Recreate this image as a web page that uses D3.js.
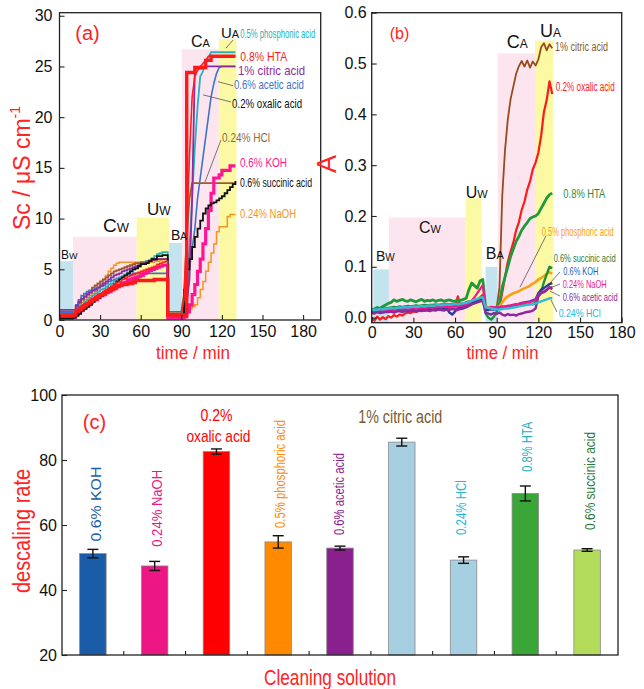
<!DOCTYPE html>
<html><head><meta charset="utf-8">
<script src="https://cdn.jsdelivr.net/npm/d3@7"></script>
<style>body{margin:0;background:#fff}svg{display:block}</style>
</head><body>
<svg id="chart" width="644" height="689"></svg>
<script>
// ---------------- DATA ----------------
const timeMin = [0,2,4,6,8,10,12,14,16,18,20,22,24,26,28,30,32,34,36,38,40,42,44,46,48,50,52,54,56,58,60,62,64,66,68,70,72,74,76,78,80,82,84,86,88,90,92,94,96,98,100,102,104,106,108,110,112,114,116,118,120,122,124,126,128,130];

// panel (a) conductivity Sc / uS cm-1
const scPhosphonic = [0.5,0.5,0.5,0.5,0.5, 0.6,0.9,1.2,1.5,1.8,2.0,2.2,2.4,2.6,2.8,3.0,3.1,3.3,3.5,3.6,3.8,4.0,4.1,4.3,4.5,4.7,4.9,5.0,5.2,5.3,5.5,5.6,5.8,5.9,6.1,6.3,6.5,6.6,6.7,6.7, 0.6,0.6,0.6,0.6,0.6,0.6, 1.0,3.0,7.0,12.0,17.0,21.0,24.0,24.5,25.5,25.9,26.4,26.4,26.4,26.4,26.4,26.4,26.4,26.4,26.4,26.4];
const scHTA = [0.4,0.4,0.4,0.4,0.4, 0.5,0.8,1.0,1.2,1.4,1.6,1.8,2.0,2.1,2.3,2.5,2.6,2.8,2.9,3.0,3.2,3.3,3.4,3.5,3.5,3.6,3.6,3.7,3.9,3.9,3.9,3.9,3.9,3.9,3.9,4.0,4.0,4.0,4.0,4.0, 0.5,0.5,0.5,0.5,0.5,0.5, 0.5,24.4,24.4,24.4,24.9,24.9,24.9,24.9,25.6,25.6,26.0,26.0,26.0,26.0,26.0,26.0,26.0,26.0,26.0,26.0];
const scCitric = [1.0,1.0,1.0,1.0,1.0, 1.0,1.4,1.8,2.1,2.3,2.5,2.7,2.9,3.0,3.2,3.4,3.6,3.8,4.0,4.2,4.4,4.5,4.6,4.8,4.9,5.0,5.1,5.2,5.3,5.4,5.5,5.6,5.7,5.8,5.9,6.0,6.0,6.0,6.0,6.0, 0.4,0.4,0.4,0.4,0.4,0.4, 0.6,1.5,4.0,12.0,24.8,24.8,24.8,24.8,25.0,25.0,25.0,25.0,25.0,25.0,25.0,25.0,25.0,25.0,25.0,25.0];
const scAcetic = [0.7,0.7,0.7,0.7,0.7, 0.8,1.5,2.0,2.4,2.6,2.8,2.9,3.0,3.1,3.2,3.3,3.4,3.6,3.8,3.9,4.0,4.1,4.2,4.3,4.4,4.5,4.5,4.6,4.6,4.6,4.6,4.6,4.6,4.6,4.6,4.6,4.6,4.6,4.6,4.6, 0.5,0.5,0.5,0.5,0.5,0.5, 1.0,3.0,5.0,7.0,9.0,12.0,14.0,16.0,18.0,20.0,22.0,23.3,24.3,24.9,25.0,25.0,25.0,25.0,25.0,25.0];
const scOxalic = [0.6,0.6,0.6,0.6,0.6, 0.6,1.0,1.2,1.4,1.6,1.7,1.9,2.1,2.3,2.5,2.6,2.8,3.0,3.2,3.3,3.5,3.7,3.8,4.0,4.1,4.3,4.4,4.5,4.6,4.7,4.8,4.9,5.0,5.1,5.2,5.3,5.5,5.6,5.7,5.8, 0.6,0.6,0.6,0.6,0.6,0.6, 2.0,9.0,16.0,22.0,24.0,24.6,25.0,25.3,25.6,26.0,26.0,26.0,26.0,26.0,26.0,26.0,26.0,26.0,26.0,26.0];
const scHCl = [0.8,0.8,0.8,0.8,0.8, 0.8,1.3,1.7,2.0,2.3,2.6,2.9,3.2,3.4,3.6,3.8,4.0,4.2,4.4,4.6,4.8,4.9,5.0,5.1,5.2,5.3,5.4,5.5,5.6,5.6,5.7,5.7,5.8,5.8,5.9,5.9,6.0,6.0,6.0,6.0, 0.8,0.8,0.8,0.8,0.8,0.8, 2.5,8.0,12.0,13.5,13.5,13.5,13.5,13.5,13.5,13.5,13.5,13.5,13.5,13.5,13.5,13.5,13.5,13.5,13.5,13.5];
const scKOH = [0.3,0.3,0.3,0.3,0.3, 0.3,0.6,0.9,1.1,1.3,1.5,1.7,1.9,2.0,2.2,2.4,2.5,2.7,2.8,3.0,3.1,3.3,3.4,3.6,3.7,3.9,4.0,4.1,4.2,4.3,4.4,4.6,4.7,4.9,5.0,5.1,5.2,5.3,5.4,5.4, 0.2,0.2,0.2,0.2,0.2,0.2, 0.3,0.8,1.5,2.5,3.5,4.8,6.0,7.5,9.0,10.8,12.5,14.0,14.0,14.3,14.75,14.75,14.75,15.2,15.2,15.2];
const scSuccinic = [0.15,0.15,0.15,0.15,0.15, 0.2,0.4,0.6,0.9,1.1,1.3,1.5,1.8,2.0,2.2,2.4,2.6,2.8,3.1,3.3,3.5,3.8,4.0,4.2,4.4,4.6,4.8,5.0,5.1,5.3,5.5,5.5,5.6,5.8,6.0,6.0,6.3,6.3,6.4,6.4, 0.5,0.5,0.5,0.5,0.5,0.5, 3.0,5.0,6.0,7.2,8.2,9.0,9.8,10.5,11.0,11.3,11.5,11.6,11.8,12.0,12.2,12.5,12.8,13.1,13.4,13.7];
const scNaOH = [0.4,0.4,0.4,0.4,0.4, 0.5,0.9,1.3,1.7,2.0,2.2,2.4,2.6,2.8,3.2,3.6,4.0,4.4,4.8,5.1,5.4,5.6,5.7,5.7,5.7,5.7,5.7,5.7,5.7,5.7,5.7,5.7,5.7,5.7,5.7,5.8,5.8,5.9,6.0,6.0, 0.3,0.3,0.3,0.3,0.3,0.3, 0.5,0.8,1.1,1.3,1.5,2.2,3.0,3.8,4.8,5.7,6.6,7.5,8.7,9.2,9.2,9.2,10.2,10.4,10.4,10.4];

// panel (b) absorbance A
const absCitric = [0.012,0.010,0.014,0.011,0.013,0.012, 0.013,0.012,0.014,0.013,0.015,0.014,0.015,0.016,0.015,0.016,0.017,0.016,0.017,0.018,0.017,0.018,0.018,0.019,0.018,0.019,0.020,0.019,0.020,0.021,0.020,0.021,0.022,0.022, 0.024,0.026,0.028,0.030,0.032,0.034,0.035, 0.018,0.020,0.019,0.021,0.020, 0.060,0.240,0.330,0.390,0.430,0.455,0.480,0.495,0.505,0.494,0.506,0.492,0.504,0.496,0.508,0.532,0.540,0.526,0.538,0.530];
const absOxalic = [0.000,-0.006,0.002,-0.004,0.001,-0.003, 0.003,0.000,0.005,0.002,0.006,0.004,0.008,0.010,0.009,0.012,0.011,0.013,0.014,0.013,0.015,0.016,0.015,0.017,0.018,0.017,0.019,0.020,0.019,0.021,0.020,0.042,0.021,0.023, 0.024,0.026,0.028,0.032,0.036,0.040,0.045, 0.015,0.017,0.016,0.018,0.017, 0.020,0.050,0.080,0.110,0.130,0.148,0.172,0.188,0.212,0.228,0.252,0.268,0.292,0.305,0.325,0.358,0.405,0.428,0.465,0.440];
const absHTA = [0.010,0.016,0.020,0.018,0.022,0.025, 0.028,0.030,0.035,0.032,0.034,0.036,0.033,0.032,0.035,0.033,0.031,0.034,0.036,0.032,0.034,0.033,0.035,0.032,0.034,0.035,0.032,0.034,0.035,0.033,0.032,0.035,0.034,0.036, 0.038,0.055,0.068,0.063,0.058,0.072,0.075, 0.020,0.018,0.017,0.019,0.020, 0.030,0.060,0.080,0.100,0.120,0.135,0.150,0.160,0.172,0.180,0.187,0.195,0.198,0.200,0.205,0.215,0.225,0.235,0.242,0.245];
const absPhosphoric = [0.008,0.010,0.012,0.011,0.013,0.014, 0.015,0.014,0.016,0.015,0.017,0.016,0.017,0.018,0.017,0.018,0.019,0.018,0.019,0.020,0.019,0.020,0.020,0.021,0.020,0.021,0.022,0.021,0.022,0.022,0.023,0.022,0.023,0.024, 0.025,0.027,0.028,0.030,0.031,0.032,0.033, 0.022,0.020,0.021,0.020,0.021, 0.022,0.030,0.037,0.042,0.045,0.048,0.050,0.052,0.055,0.058,0.060,0.063,0.067,0.070,0.075,0.078,0.082,0.086,0.089,0.087];
const absSuccinic = [0.015,0.018,0.016,0.019,0.017,0.018, 0.019,0.020,0.021,0.020,0.022,0.021,0.022,0.023,0.022,0.023,0.024,0.023,0.024,0.025,0.024,0.025,0.025,0.026,0.025,0.026,0.026,0.027,0.026,0.027,0.027,0.028,0.027,0.028, 0.030,0.032,0.033,0.034,0.035,0.036,0.037, 0.008,0.000,-0.004,0.002,0.012, 0.020,0.022,0.021,0.023,0.022,0.024,0.023,0.025,0.024,0.026,0.025,0.027,0.026,0.030,0.042,0.050,0.070,0.085,0.100,0.097];
const absKOH = [0.012,0.011,0.013,0.012,0.014,0.013, 0.014,0.013,0.015,0.014,0.015,0.016,0.015,0.016,0.015,0.016,0.017,0.016,0.017,0.016,0.017,0.018,0.017,0.018,0.017,0.018,0.017,0.018,0.010,0.006,0.012,0.018,0.020,0.021, 0.022,0.025,0.028,0.030,0.032,0.034,0.035, 0.016,0.015,0.017,0.016,0.017, 0.018,0.019,0.020,0.022,0.023,0.025,0.026,0.027,0.029,0.030,0.031,0.032,0.034,0.036,0.048,0.055,0.058,0.062,0.066,0.068];
const absNaOH = [0.010,0.012,0.011,0.013,0.012,0.014, 0.014,0.015,0.014,0.016,0.015,0.016,0.017,0.016,0.017,0.018,0.017,0.018,0.019,0.018,0.019,0.020,0.019,0.020,0.021,0.020,0.021,0.022,0.021,0.022,0.023,0.022,0.023,0.024, 0.025,0.028,0.033,0.040,0.048,0.056,0.064, 0.020,0.019,0.021,0.020,0.021, 0.020,0.021,0.022,0.023,0.024,0.025,0.026,0.027,0.028,0.029,0.030,0.031,0.032,0.034,0.045,0.050,0.052,0.055,0.058,0.060];
const absAcetic = [0.010,0.008,0.011,0.009,0.010,0.011, 0.011,0.012,0.010,0.012,0.013,0.011,0.013,0.012,0.014,0.013,0.012,0.014,0.013,0.015,0.014,0.013,0.015,0.014,0.016,0.015,0.014,0.016,0.015,0.017,0.016,0.015,0.017,0.018, 0.020,0.023,0.026,0.028,0.030,0.032,0.033, 0.010,0.008,0.006,0.009,0.007, 0.010,0.006,0.004,0.007,0.005,0.006,0.004,0.007,0.008,0.010,0.011,0.012,0.014,0.018,0.042,0.048,0.050,0.054,0.060,0.056];
const absHCl = [0.015,0.016,0.015,0.017,0.016,0.017, 0.018,0.019,0.018,0.019,0.020,0.020,0.021,0.020,0.021,0.022,0.021,0.022,0.023,0.022,0.023,0.024,0.023,0.024,0.025,0.024,0.025,0.026,0.025,0.026,0.027,0.026,0.027,0.028, 0.029,0.031,0.033,0.035,0.037,0.039,0.040, 0.020,0.019,0.018,0.017,0.016, 0.016,0.017,0.018,0.018,0.019,0.020,0.021,0.022,0.023,0.024,0.025,0.026,0.027,0.028,0.030,0.032,0.034,0.036,0.038,0.038];

// cleaning phases
const phaseLetter = ['B','C','U','B','C','U'];
const phaseSub = ['W','W','W','A','A','A'];
const phaseStartA = [0,10,57,81,90.5,117.7];
const phaseEndA = [10,57,81,90.5,117.7,130.8];
const phaseTopA = [5.8,8.2,10.1,7.6,26.7,27.7];
const phaseStartB = [1.2,12.4,67.7,82,90.7,117.6];
const phaseEndB = [12.4,67.7,79.2,90.7,117.6,130.8];
const phaseTopB = [0.095,0.197,0.235,0.1,0.52,0.545];

// panel (c) descaling rate
const solutions = ['0.6% KOH','0.24% NaOH','0.2% oxalic acid','0.5% phosphoric acid','0.6% acetic acid','1% citric acid','0.24% HCl','0.8% HTA','0.6% succinic acid'];
const descalingRate = [51.2,47.4,82.6,54.8,52.9,85.5,49.2,69.7,52.3];
const descalingErr = [1.3,1.4,0.8,1.9,0.6,1.2,1.0,2.3,0.4];

const ticksTime = [0,30,60,90,120,150,180];
const ticksSc = [0,5,10,15,20,25,30];
const ticksA = [0,0.1,0.2,0.3,0.4,0.5,0.6];
const ticksRate = [20,40,60,80,100];

// ---------------- DRAW ----------------
const FONT = "'Liberation Sans', Arial, Helvetica, sans-serif";
const NARROW = "'Liberation Sans Narrow','Arial Narrow','Liberation Sans', Arial, sans-serif";
const RED = '#ff2323';
const svg = d3.select('#chart');
const phaseFill = ['#c3e4ee','#fde5f0','#fbf9a4','#c3e4ee','#fde5f0','#fbf9a4'];

function txt(g, x, y, s, o) {
  const t = g.append('text').attr('x', x).attr('y', y).text(s)
    .attr('font-size', o.size).attr('fill', o.color || '#000')
    .attr('font-family', o.family || NARROW)
    .attr('text-anchor', o.anchor || 'start').attr('dy', '0.35em');
  if (o.len) t.attr('textLength', o.len).attr('lengthAdjust', 'spacingAndGlyphs');
  if (o.rotate) t.attr('transform', `rotate(-90 ${x} ${y})`);
  return t;
}
function phaseLabel(g, x, y, i, big, small) {
  const t = g.append('text').attr('x', x).attr('y', y).attr('dy', '0.35em')
    .attr('font-family', FONT).attr('fill', '#111');
  t.append('tspan').attr('font-size', big).text(phaseLetter[i]);
  t.append('tspan').attr('font-size', small).text(phaseSub[i]);
}
function styleAxis(g, size, family) {
  g.select('.domain').remove();
  g.attr('font-size', size).attr('font-family', family || FONT);
  g.selectAll('.tick line').attr('stroke', '#222').attr('stroke-width', 1.1);
  g.selectAll('.tick text').attr('fill', '#111');
}

// ===== Panel (a) =====
const xA = d3.scaleLinear().domain([0, 193]).range([59.5, 320.7]);
const yA = d3.scaleLinear().domain([0, 30.3]).range([320, 12.7]);
const gA = svg.append('g');
phaseStartA.forEach((s, i) => {
  gA.append('rect').attr('x', xA(s)).attr('width', xA(phaseEndA[i]) - xA(s))
    .attr('y', yA(phaseTopA[i])).attr('height', yA(0) - yA(phaseTopA[i])).attr('fill', phaseFill[i]);
});
// fast = conductivity rises smoothly during acid cleaning
const seriesA = [
  {v: scNaOH, c: '#f7941d', w: 1.5, fast: false},
  {v: scHCl, c: '#9c5a2c', w: 1.8, fast: true},
  {v: scAcetic, c: '#3d74c6', w: 1.6, fast: true},
  {v: scPhosphonic, c: '#27b4bf', w: 1.8, fast: true},
  {v: scCitric, c: '#8c2c9e', w: 1.8, fast: true},
  {v: scKOH, c: '#ff1493', w: 3.2, fast: false},
  {v: scSuccinic, c: '#111111', w: 1.8, fast: false},
  {v: scOxalic, c: '#ff1f1f', w: 1.6, fast: true},
  {v: scHTA, c: '#ff1a1a', w: 3.4, fast: false}
];
const splitIdx = timeMin.indexOf(90);
const stepLine = d3.line().x(d => xA(d[0])).y(d => yA(d[1])).curve(d3.curveStepAfter);
const linLine = d3.line().x(d => xA(d[0])).y(d => yA(d[1]));
seriesA.forEach(s => {
  const pts = s.v.map((v, i) => [timeMin[i], v]);
  const g = gA.append('g').attr('fill', 'none').attr('stroke', s.c).attr('stroke-width', s.w);
  if (s.fast) {
    g.append('path').attr('d', stepLine(pts.slice(0, splitIdx + 1)));
    g.append('path').attr('d', linLine(pts.slice(splitIdx)));
  } else {
    g.append('path').attr('d', stepLine(pts));
  }
});

const axA = gA.append('g').attr('transform', `translate(0,${yA(0)})`)
  .call(d3.axisBottom(xA).tickValues(ticksTime).tickSize(-5).tickPadding(6));
styleAxis(axA, 16);
const ayA = gA.append('g').attr('transform', `translate(${xA(0)},0)`)
  .call(d3.axisLeft(yA).tickValues(ticksSc).tickSize(-5).tickPadding(7));
styleAxis(ayA, 16);
gA.append('rect').attr('x', xA(0)).attr('y', yA(30.3)).attr('width', xA(193) - xA(0))
  .attr('height', yA(0) - yA(30.3)).attr('fill', 'none').attr('stroke', '#222').attr('stroke-width', 1.3);

// leader lines (a)
const leadA = [[128.2,27.6,123,26.8],[128.2,23.1,117.1,23.5],[126.7,21.5,106,22.2],[119.3,17.75,107.5,13.6]];
leadA.forEach(l => gA.append('line').attr('x1', xA(l[0])).attr('y1', yA(l[1])).attr('x2', xA(l[2])).attr('y2', yA(l[3]))
  .attr('stroke', '#555').attr('stroke-width', 0.8));
txt(gA, xA(133.5), yA(28.3), '0.5% phosphonic acid', {size: 13, color: '#1fb3be', len: 75});
txt(gA, xA(133.5), yA(26.0), '0.8% HTA', {size: 13, color: '#ff1a1a', len: 47});
txt(gA, xA(131.9), yA(24.6), '1% citric acid', {size: 13, color: '#8c2c9e', len: 67});
txt(gA, xA(128.9), yA(23.2), '0.6% acetic acid', {size: 13, color: '#3d74c6', len: 70});
txt(gA, xA(127.5), yA(21.4), '0.2% oxalic acid', {size: 13, color: '#111', len: 70});
txt(gA, xA(120.1), yA(18.0), '0.24% HCl', {size: 13, color: '#8a6a3c', len: 48});
txt(gA, xA(133.4), yA(15.5), '0.6% KOH', {size: 13, color: '#ff1493', len: 47});
txt(gA, xA(133.4), yA(13.6), '0.6% succinic acid', {size: 13, color: '#111', len: 72});
txt(gA, xA(133.4), yA(10.55), '0.24% NaOH', {size: 13, color: '#f7941d', len: 56});
txt(gA, xA(20.7), yA(28.3), '(a)', {size: 20, color: RED, anchor: 'middle', family: FONT});
phaseLabel(gA, xA(1.1), yA(6.6), 0, 12, 9);
phaseLabel(gA, xA(32.1), yA(9.2), 1, 19, 13);
phaseLabel(gA, xA(64.6), yA(10.95), 2, 17, 12);
phaseLabel(gA, xA(82.4), yA(8.4), 3, 14, 10);
phaseLabel(gA, xA(97.2), yA(27.5), 4, 16, 11);
phaseLabel(gA, xA(119.3), yA(28.4), 5, 15, 11);
// titles
const ttA = gA.append('text').attr('transform', 'translate(30,168) rotate(-90)').attr('text-anchor', 'middle')
  .attr('font-family', FONT).attr('font-size', 23).attr('fill', RED);
ttA.append('tspan').text('Sc / μS cm');
ttA.append('tspan').attr('font-size', 14).attr('dy', -10).text('-1');
txt(gA, 193, 352, 'time / min', {size: 19, color: RED, anchor: 'middle', len: 74});

// ===== Panel (b) =====
const xB = d3.scaleLinear().domain([0, 180]).range([371.7, 621.7]);
const yB = d3.scaleLinear().domain([-0.01, 0.6]).range([322.7, 12.7]);
const gB = svg.append('g');
phaseStartB.forEach((s, i) => {
  gB.append('rect').attr('x', xB(s)).attr('width', xB(phaseEndB[i]) - xB(s))
    .attr('y', yB(phaseTopB[i])).attr('height', yB(-0.01) - yB(phaseTopB[i])).attr('fill', phaseFill[i]);
});
const seriesB = [
  {v: absCitric, c: '#9b4a1c', w: 1.8},
  {v: absOxalic, c: '#ff1a1a', w: 2.2},
  {v: absHTA, c: '#1f9a3a', w: 2.8},
  {v: absPhosphoric, c: '#f6a20c', w: 2.6},
  {v: absSuccinic, c: '#1f8f3a', w: 2.4},
  {v: absKOH, c: '#263a9e', w: 2.4},
  {v: absNaOH, c: '#ec1a8c', w: 2.2},
  {v: absAcetic, c: '#8a2a9e', w: 2.4},
  {v: absHCl, c: '#35b9d6', w: 2.4}
];
const lineB = d3.line().x((d, i) => xB(timeMin[i])).y(d => yB(d));
seriesB.forEach(s => gB.append('path').attr('d', lineB(s.v)).attr('fill', 'none')
  .attr('stroke', s.c).attr('stroke-width', s.w).attr('stroke-linejoin', 'round'));
const axB = gB.append('g').attr('transform', `translate(0,${yB(-0.01)})`)
  .call(d3.axisBottom(xB).tickValues(ticksTime).tickSize(-5).tickPadding(4));
styleAxis(axB, 16);
const ayB = gB.append('g').attr('transform', `translate(${xB(0)},0)`)
  .call(d3.axisLeft(yB).tickValues(ticksA).tickFormat(d3.format('.1f')).tickSize(-5).tickPadding(5));
styleAxis(ayB, 16);
gB.append('rect').attr('x', xB(0)).attr('y', yB(0.6)).attr('width', xB(180) - xB(0))
  .attr('height', yB(-0.01) - yB(0.6)).attr('fill', 'none').attr('stroke', '#222').attr('stroke-width', 1.3);
const leadB = [[125.5,0.161,106.8,0.060],[135.6,0.0898,128.4,0.068],[135.6,0.066,129.8,0.060],[135.6,0.0425,128.4,0.052],[133.4,0.011,129.1,0.0347]];
leadB.forEach(l => gB.append('line').attr('x1', xB(l[0])).attr('y1', yB(l[1])).attr('x2', xB(l[2])).attr('y2', yB(l[3]))
  .attr('stroke', '#555').attr('stroke-width', 0.8));
txt(gB, xB(132.0), yB(0.533), '1% citric acid', {size: 12, color: '#8b5a2b', len: 53});
txt(gB, xB(132.5), yB(0.454), '0.2% oxalic acid', {size: 12, color: '#ff1a1a', len: 59});
txt(gB, xB(138.0), yB(0.243), '0.8% HTA', {size: 12, color: '#2e8b40', len: 42});
txt(gB, xB(122.4), yB(0.168), '0.5% phosphoric acid', {size: 12, color: '#f6a21c', len: 72});
txt(gB, xB(131.0), yB(0.117), '0.6% succinic acid', {size: 11.5, color: '#2e7d32', len: 62});
txt(gB, xB(138.0), yB(0.091), '0.6% KOH', {size: 11.5, color: '#1f5fb8', len: 35});
txt(gB, xB(137.5), yB(0.065), '0.24% NaOH', {size: 11, color: '#ec1a8c', len: 44});
txt(gB, xB(137.5), yB(0.040), '0.6% acetic acid', {size: 11, color: '#8a2a9e', len: 55});
txt(gB, xB(134.6), yB(0.0085), '0.24% HCl', {size: 11.5, color: '#29b6d6', len: 42});
txt(gB, xB(20.0), yB(0.560), '(b)', {size: 16, color: RED, anchor: 'middle', family: FONT});
phaseLabel(gB, xB(3.1), yB(0.123), 0, 14, 10);
phaseLabel(gB, xB(34.1), yB(0.177), 1, 16, 11);
phaseLabel(gB, xB(67.7), yB(0.247), 2, 16, 11);
phaseLabel(gB, xB(82.1), yB(0.127), 3, 16, 11);
phaseLabel(gB, xB(97.2), yB(0.542), 4, 18, 12);
phaseLabel(gB, xB(121.2), yB(0.563), 5, 18, 12);
gB.append('text').attr('transform', 'translate(336,164) rotate(-90)').attr('text-anchor', 'middle')
  .attr('font-family', FONT).attr('font-size', 27).attr('fill', RED).text('A');
txt(gB, 502.5, 352, 'time / min', {size: 19, color: RED, anchor: 'middle', len: 72});

// ===== Panel (c) =====
const xC = d3.scaleBand().domain(solutions).range([62, 618]).padding(0);
const yC = d3.scaleLinear().domain([20, 100]).range([655, 395]);
const gC = svg.append('g');
const barColors = ['#1a5ca8','#ec1684','#fe0000','#ff8a00','#8a1f8e','#a7cfe2','#a7cfe2','#3aa637','#b2dc5a'];
const labelColors = ['#1a5ea8','#ec1684','#ff0000','#ff8c00','#8b1f8f','#7b5a32','#29b6d6','#26aebc','#2a7a3a'];
const barW = 26.5;
const cx = d => xC(d) + xC.bandwidth() / 2;
gC.selectAll('rect.bar').data(solutions).enter().append('rect').attr('class', 'bar')
  .attr('x', d => cx(d) - barW / 2).attr('width', barW)
  .attr('y', (d, i) => yC(descalingRate[i])).attr('height', (d, i) => yC(20) - yC(descalingRate[i]))
  .attr('fill', (d, i) => barColors[i]).attr('stroke', '#8a8a8a').attr('stroke-width', 0.8);
solutions.forEach((d, i) => {
  const x = cx(d), hi = yC(descalingRate[i] + descalingErr[i]), lo = yC(descalingRate[i] - descalingErr[i]);
  gC.append('line').attr('x1', x).attr('x2', x).attr('y1', hi).attr('y2', lo).attr('stroke', '#111').attr('stroke-width', 1.4);
  [hi, lo].forEach(y => gC.append('line').attr('x1', x - 5.5).attr('x2', x + 5.5).attr('y1', y).attr('y2', y)
    .attr('stroke', '#111').attr('stroke-width', 1.4));
});
// x ticks between bars
solutions.slice(1).forEach(d => gC.append('line').attr('x1', xC(d)).attr('x2', xC(d))
  .attr('y1', yC(20)).attr('y2', yC(20) - 4).attr('stroke', '#222').attr('stroke-width', 1.1));
const ayC = gC.append('g').attr('transform', `translate(62,0)`)
  .call(d3.axisLeft(yC).tickValues(ticksRate).tickSize(-5).tickPadding(5));
styleAxis(ayC, 16, NARROW);
gC.append('rect').attr('x', 62).attr('y', yC(100)).attr('width', 556).attr('height', yC(20) - yC(100))
  .attr('fill', 'none').attr('stroke', '#222').attr('stroke-width', 1.3);

// bar labels
const rotLab = [
  [0, 2.4, 54.9, 15, 75],
  [1, 1.6, 53.3, 15, 77],
  [3, 2.0, 59.1, 15, 108],
  [4, -0.8, 56.9, 15, 82],
  [6, -3.0, 56.9, 15, 55],
  [7, 1.6, 76.4, 15, 50],
  [8, 2.7, 58.5, 15, 98]
];
rotLab.forEach(r => txt(gC, cx(solutions[r[0]]) + r[1], yC(r[2]), solutions[r[0]],
  {size: r[3], color: labelColors[r[0]], len: r[4], rotate: true}));
txt(gC, cx(solutions[2]), yC(93.8), '0.2%', {size: 17, color: labelColors[2], anchor: 'middle', len: 32});
txt(gC, cx(solutions[2]) + 2, yC(87.4), 'oxalic acid', {size: 17, color: labelColors[2], anchor: 'middle', len: 64});
txt(gC, cx(solutions[5]) - 1.5, yC(93.5), '1% citric acid', {size: 19, color: labelColors[5], anchor: 'middle', len: 84});
txt(gC, 94.5, yC(91.8), '(c)', {size: 20, color: RED, anchor: 'middle', family: FONT});
txt(gC, 22, 531, 'descaling rate', {size: 23, color: RED, anchor: 'middle', len: 124, rotate: true, family: FONT});
txt(gC, 330, 677, 'Cleaning solution', {size: 22, color: RED, anchor: 'middle', len: 132});
</script>
</body></html>
